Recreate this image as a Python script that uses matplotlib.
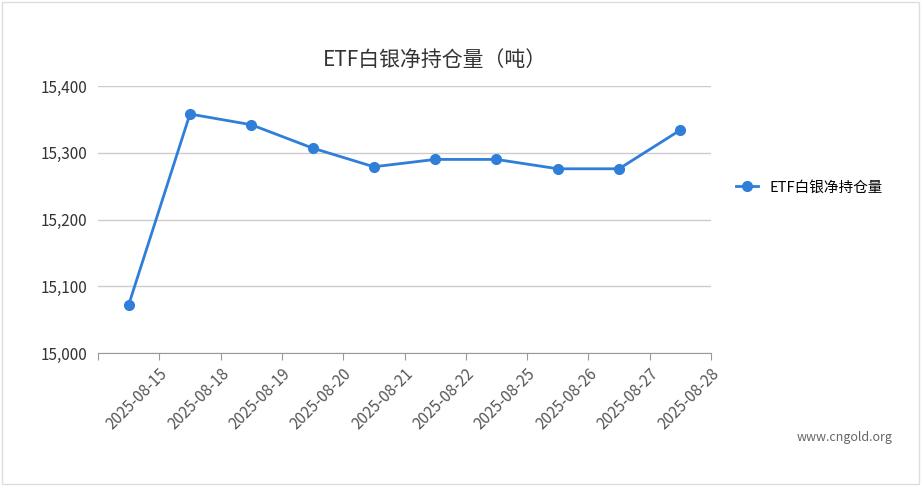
import matplotlib.pyplot as plt
from matplotlib.patches import Rectangle

plt.rcParams['font.family'] = ['Noto Sans CJK SC', 'DejaVu Sans']

dates = ["2025-08-15", "2025-08-18", "2025-08-19", "2025-08-20", "2025-08-21",
         "2025-08-22", "2025-08-25", "2025-08-26", "2025-08-27", "2025-08-28"]
holdings = [15072, 15358, 15342, 15307, 15279, 15290, 15290, 15276, 15276, 15334]
yticks = [15000, 15100, 15200, 15300, 15400]

W, H = 921, 486
fig = plt.figure(figsize=(W / 100, H / 100), dpi=100)
fig.patches.append(Rectangle((2 / W, 2 / H), 1 - 4 / W, 1 - 4 / H, transform=fig.transFigure,
                             fill=False, edgecolor='#dddddd', linewidth=1))
ax = fig.add_axes([98 / W, 1 - 353 / H, (711 - 98) / W, (353 - 86) / H])

x = [i + 0.5 for i in range(len(dates))]
ax.plot(x, holdings, color='#2f7ed8', linewidth=2, marker='o', markersize=7, label='ETF白银净持仓量')
ax.set_xlim(0, len(dates))
ax.set_ylim(15000, 15400)
ax.set_yticks(yticks)
ax.set_yticklabels([f"{v:,}" for v in yticks], fontsize=11, color='#333333')
ax.yaxis.grid(True, color='#cccccc', linewidth=1)
ax.set_axisbelow(True)
ax.tick_params(axis='y', length=0, pad=8)

ax.set_xticks(range(len(dates) + 1))
ax.set_xticklabels([''] + dates, rotation=45, ha='right', rotation_mode='anchor',
                   fontsize=11, color='#555555')
ax.tick_params(axis='x', length=5, color='#999999', pad=4)

for s in ['top', 'right', 'left']:
    ax.spines[s].set_visible(False)
ax.spines['bottom'].set_color('#999999')

fig.text(435 / W, 1 - 60 / H, 'ETF白银净持仓量（吨）', fontsize=15, color='#333333', ha='center', va='center')
ax.legend(loc='center left', bbox_to_anchor=(1.02, 0.62), frameon=False, fontsize=10.5,
          handlelength=1.5)
fig.text(845 / W, 1 - 437 / H, 'www.cngold.org', fontsize=9, color='#666666', ha='center', va='center')

fig.savefig('out.png', dpi=100)
